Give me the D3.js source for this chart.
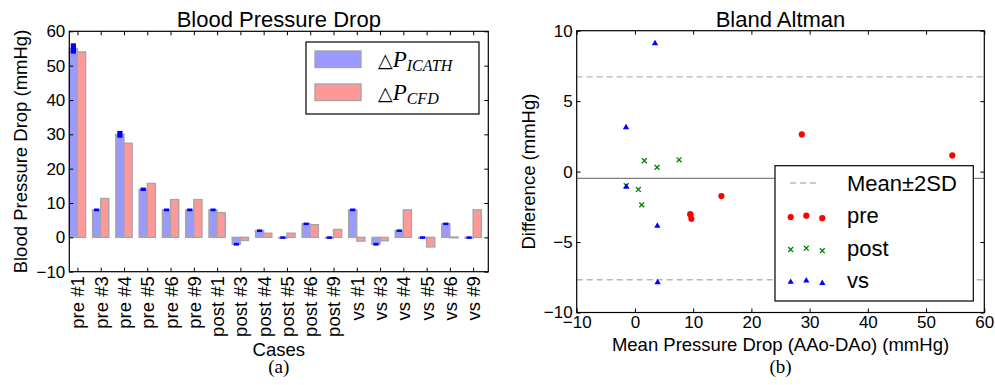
<!DOCTYPE html>
<html>
<head>
<meta charset="utf-8">
<script src="https://cdn.jsdelivr.net/npm/d3@7"></script>
<style>
  body { margin: 0; background: #fff; }
  svg { display: block; }
  .sans { font-family: "Liberation Sans", Arial, sans-serif; }
  .serif { font-family: "Liberation Serif", "DejaVu Serif", serif; }
</style>
</head>
<body>
<svg id="fig" width="995" height="385"></svg>
<script>
// ---- data: bar chart (a)
const cases = ["pre #1", "pre #3", "pre #4", "pre #5", "pre #6", "pre #9",
    "post #1", "post #3", "post #4", "post #5", "post #6", "post #9",
    "vs #1", "vs #3", "vs #4", "vs #5", "vs #6", "vs #9"];
const icath = [55, 8, 30, 14, 8, 8, 8, -2, 2, 0, 4, 0, 8, -2, 2, 0, 4, 0];
const icathErr = [1.5, 0.4, 1, 0.5, 0.4, 0.4, 0.4, 0.4, 0.3, 0.3, 0.3, 0.3, 0.4, 0.4, 0.3, 0.3, 0.3, 0.3];
const cfd = [54, 11.3, 27.4, 15.7, 11, 11, 7.2, -0.9, 1.2, 1.2, 3.7, 2.3, -1.1, -1, 8, -2.8, 0.1, 8];
const yTicksA = [-10, 0, 10, 20, 30, 40, 50, 60];

// ---- data: Bland Altman (b)
const preMean = [54.5, 9.7, 28.66, 14.85, 9.52, 9.52];
const preDiff = [1.15, -3.35, 2.64, -1.74, -3.04, -3.04];
const postMean = [7.58, -1.5, 1.62, 0.59, 3.8, 1.17];
const postDiff = [0.84, -1.0, 0.77, -1.27, 0.3, -2.36];
const vsMean = [3.45, -1.47, 3.85, -1.53, 3.9];
const vsDiff = [9.1, -1.08, -3.85, 3.14, -7.87];
const meanDiff = -0.48;
const twoSD = 7.2;
const xTicksB = [-10, 0, 10, 20, 30, 40, 50, 60];
const yTicksB = [-10, -5, 0, 5, 10];

const svg = d3.select("#fig");
const fmt = d => (d < 0 ? "\u2212" + Math.abs(d) : "" + d);

// ================= panel (a) =================
const A = { left: 69.3, right: 488.3, top: 31.3, bottom: 271.7 };
const xA = d3.scaleLinear().domain([0, 18]).range([A.left, A.right]);
const yA = d3.scaleLinear().domain([-10, 60]).range([A.bottom, A.top]);
const barW = 0.35;

const bars = svg.append("g");
function drawBars(values, offset, fill) {
    bars.selectAll(null)
        .data(values)
        .enter()
        .append("rect")
        .attr("x", (d, i) => xA(i + offset))
        .attr("width", xA(barW) - xA(0))
        .attr("y", d => Math.min(yA(d), yA(0)))
        .attr("height", d => Math.max(Math.abs(yA(d) - yA(0)), 0.8))
        .attr("fill", fill)
        .attr("stroke", "#a6a6a6")
        .attr("stroke-width", 1.4);
}
drawBars(icath, 0, "#9999ff");
drawBars(cfd, barW, "#ff9999");

// error bars on ICATH
bars.selectAll(null)
    .data(icath)
    .enter()
    .append("rect")
    .attr("x", (d, i) => xA(i + barW / 2) - 2.6)
    .attr("width", 5.2)
    .attr("y", (d, i) => yA(d + icathErr[i]))
    .attr("height", (d, i) => Math.max(yA(d - icathErr[i]) - yA(d + icathErr[i]), 2.5))
    .attr("fill", "#0000ff");

const tickVals = cases.map((c, i) => i + barW);
const axA = svg.append("g").attr("class", "serif");
axA.append("g")
    .attr("transform", `translate(${A.left},0)`)
    .call(d3.axisLeft(yA).tickValues(yTicksA).tickSize(-4).tickPadding(4).tickFormat(fmt));
axA.append("g")
    .attr("transform", `translate(${A.right},0)`)
    .call(d3.axisRight(yA).tickValues(yTicksA).tickSize(-4).tickFormat(""));
axA.append("g")
    .attr("transform", `translate(0,${A.top})`)
    .call(d3.axisTop(xA).tickValues(tickVals).tickSize(-4).tickFormat(""));
const xAxisA = axA.append("g")
    .attr("transform", `translate(0,${A.bottom})`)
    .call(d3.axisBottom(xA).tickValues(tickVals).tickSize(-4).tickFormat((d, i) => cases[i]));
xAxisA.selectAll("text")
    .attr("class", "sans")
    .attr("transform", "rotate(-90)")
    .attr("text-anchor", "end")
    .attr("x", -4.5)
    .attr("y", 0)
    .attr("dy", "0.35em")
    .style("font-size", "18.5px");
axA.selectAll(".domain").remove();
axA.selectAll("text").attr("fill", "#000");
axA.selectAll(".tick text").filter(function() { return this.getAttribute("class") !== "sans"; })
    .style("font-size", "17px");
axA.selectAll("line").attr("stroke", "#000");

svg.append("rect")
    .attr("x", A.left).attr("y", A.top)
    .attr("width", A.right - A.left).attr("height", A.bottom - A.top)
    .attr("fill", "none").attr("stroke", "#000").attr("stroke-width", 1.2);

// legend (a)
const legA = svg.append("g");
legA.append("rect")
    .attr("x", 306).attr("y", 42).attr("width", 173).attr("height", 72)
    .attr("fill", "#fff").attr("stroke", "#000").attr("stroke-width", 1.2);
const legAItems = [
    { fill: "#9999ff", sub: "ICATH", y: 51 },
    { fill: "#ff9999", sub: "CFD", y: 84 }
];
legAItems.forEach(it => {
    legA.append("rect")
        .attr("x", 315).attr("y", it.y).attr("width", 46).attr("height", 16.5)
        .attr("fill", it.fill).attr("stroke", "#a6a6a6").attr("stroke-width", 1.4);
    const t = legA.append("text").attr("x", 378).attr("y", it.y + 16);
    t.append("tspan").attr("font-family", "DejaVu Sans").attr("font-size", "19px").text("\u25B3");
    t.append("tspan").attr("class", "serif").attr("font-style", "italic").attr("font-size", "23px").text("P");
    t.append("tspan").attr("class", "serif").attr("font-style", "italic").attr("font-size", "16px")
        .attr("dy", 4).text(it.sub);
});

svg.append("text").attr("class", "sans")
    .attr("x", (A.left + A.right) / 2).attr("y", 27)
    .attr("text-anchor", "middle").style("font-size", "22px")
    .text("Blood Pressure Drop");
svg.append("text").attr("class", "sans")
    .attr("transform", `translate(27,${(A.top + A.bottom) / 2}) rotate(-90)`)
    .attr("text-anchor", "middle").style("font-size", "18.5px")
    .text("Blood Pressure Drop (mmHg)");
svg.append("text").attr("class", "sans")
    .attr("x", (A.left + A.right) / 2).attr("y", 356)
    .attr("text-anchor", "middle").style("font-size", "18.5px")
    .text("Cases");
svg.append("text").attr("class", "serif")
    .attr("x", (A.left + A.right) / 2).attr("y", 373)
    .attr("text-anchor", "middle").style("font-size", "19px")
    .text("(a)");

// ================= panel (b) =================
const B = { left: 576.7, right: 984.3, top: 30.7, bottom: 312.5 };
const xB = d3.scaleLinear().domain([-10, 60]).range([B.left, B.right]);
const yB = d3.scaleLinear().domain([-10, 10]).range([B.bottom, B.top]);

const refLines = svg.append("g");
refLines.append("line")
    .attr("x1", B.left).attr("x2", B.right)
    .attr("y1", yB(meanDiff)).attr("y2", yB(meanDiff))
    .attr("stroke", "#808080").attr("stroke-width", 1.4);
[meanDiff + twoSD, meanDiff - twoSD].forEach(v => {
    refLines.append("line")
        .attr("x1", B.left).attr("x2", B.right)
        .attr("y1", yB(v)).attr("y2", yB(v))
        .attr("stroke", "#b8b8b8").attr("stroke-width", 1.4)
        .attr("stroke-dasharray", "6,4");
});

const groups = [
    { name: "pre", mean: preMean, diff: preDiff, type: d3.symbolCircle, size: 30, fill: "#ff0000", stroke: "none" },
    { name: "post", mean: postMean, diff: postDiff, type: d3.symbolX, size: 17, fill: "none", stroke: "#008000" },
    { name: "vs", mean: vsMean, diff: vsDiff, type: d3.symbolTriangle, size: 17, fill: "#0000ff", stroke: "none" }
];
const pts = svg.append("g");
groups.forEach(g => {
    pts.selectAll(null)
        .data(g.mean.map((m, i) => [m, g.diff[i]]))
        .enter()
        .append("path")
        .attr("transform", d => `translate(${xB(d[0])},${yB(d[1])})`)
        .attr("d", d3.symbol().type(g.type).size(g.size))
        .attr("fill", g.fill)
        .attr("stroke", g.stroke)
        .attr("stroke-width", 1.3);
});

const axB = svg.append("g").attr("class", "serif");
axB.append("g")
    .attr("transform", `translate(${B.left},0)`)
    .call(d3.axisLeft(yB).tickValues(yTicksB).tickSize(-4).tickPadding(4).tickFormat(fmt));
axB.append("g")
    .attr("transform", `translate(${B.right},0)`)
    .call(d3.axisRight(yB).tickValues(yTicksB).tickSize(-4).tickFormat(""));
axB.append("g")
    .attr("transform", `translate(0,${B.top})`)
    .call(d3.axisTop(xB).tickValues(xTicksB).tickSize(-4).tickFormat(""));
axB.append("g")
    .attr("transform", `translate(0,${B.bottom})`)
    .call(d3.axisBottom(xB).tickValues(xTicksB).tickSize(-4).tickPadding(3).tickFormat(fmt));
axB.selectAll(".domain").remove();
axB.selectAll("text").attr("fill", "#000").style("font-size", "17px");
axB.selectAll("line").attr("stroke", "#000");

// legend (b)
const legB = svg.append("g").attr("class", "sans");
legB.append("rect")
    .attr("x", 775).attr("y", 165.7).attr("width", 198.3).attr("height", 135.3)
    .attr("fill", "#fff").attr("stroke", "#000").attr("stroke-width", 1.2);
legB.append("line")
    .attr("x1", 790).attr("x2", 819).attr("y1", 183).attr("y2", 183)
    .attr("stroke", "#b8b8b8").attr("stroke-width", 1.4).attr("stroke-dasharray", "6,4");
legB.append("text").attr("x", 847).attr("y", 191).style("font-size", "22px").text("Mean\u00B12SD");
const legRows = [223, 255.5, 288];
const legXs = [790.7, 806.3, 822.3];
const legYOff = [-6, -7.3, -4.8];
groups.forEach((g, k) => {
    legXs.forEach((lx, j) => {
        legB.append("path")
            .attr("transform", `translate(${lx},${legRows[k] + legYOff[j]})`)
            .attr("d", d3.symbol().type(g.type).size(g.size))
            .attr("fill", g.fill)
            .attr("stroke", g.stroke)
            .attr("stroke-width", 1.3);
    });
    legB.append("text").attr("x", 847).attr("y", legRows[k]).style("font-size", "22px").text(g.name);
});

svg.append("rect")
    .attr("x", B.left).attr("y", B.top)
    .attr("width", B.right - B.left).attr("height", B.bottom - B.top)
    .attr("fill", "none").attr("stroke", "#000").attr("stroke-width", 1.2);

svg.append("text").attr("class", "sans")
    .attr("x", (B.left + B.right) / 2).attr("y", 27)
    .attr("text-anchor", "middle").style("font-size", "22px")
    .text("Bland Altman");
svg.append("text").attr("class", "sans")
    .attr("transform", `translate(535,${(B.top + B.bottom) / 2}) rotate(-90)`)
    .attr("text-anchor", "middle").style("font-size", "18.5px")
    .text("Difference (mmHg)");
svg.append("text").attr("class", "sans")
    .attr("x", (B.left + B.right) / 2).attr("y", 351)
    .attr("text-anchor", "middle").style("font-size", "18.5px")
    .text("Mean Pressure Drop (AAo-DAo) (mmHg)");
svg.append("text").attr("class", "serif")
    .attr("x", (B.left + B.right) / 2).attr("y", 373)
    .attr("text-anchor", "middle").style("font-size", "19px")
    .text("(b)");
</script>
</body>
</html>
